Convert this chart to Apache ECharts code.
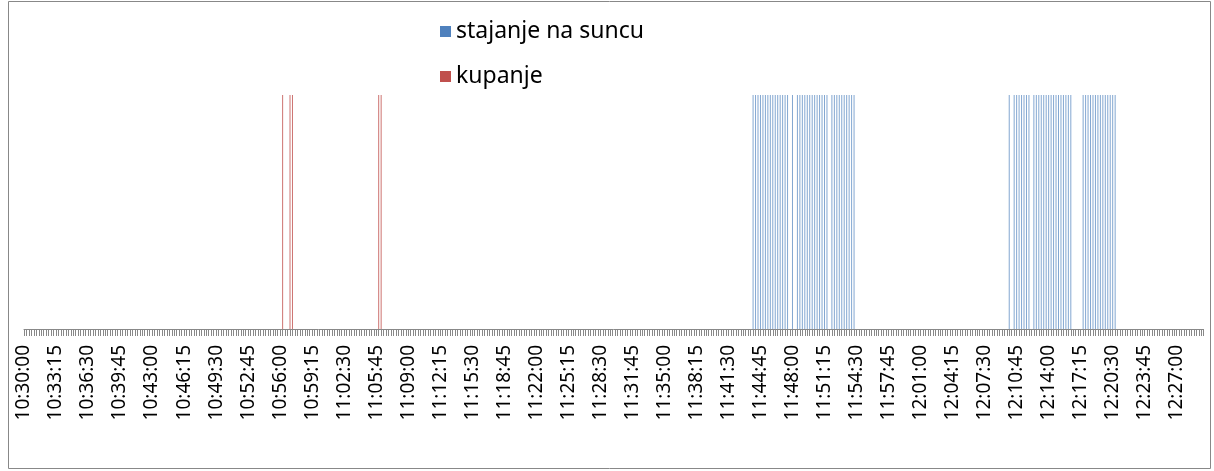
<!DOCTYPE html>
<html>
<head>
<meta charset="utf-8">
<script src="https://cdn.jsdelivr.net/npm/echarts@6/dist/echarts.min.js"></script>
<style>
    html, body { margin: 0; padding: 0; background: #fff; }
    #main { width: 1214px; height: 471px; }
</style>
</head>
<body>
<div id="main"></div>
<script>
// os vremena
var startTime = '10:30:00';
var tickStep = 195; // 3:15 izmedju oznaka
var axisEnd = 7180;

// stajanje na suncu
var sunTimes = [
    '11:44:00', '11:44:15', '11:44:30', '11:44:45', '11:45:00', '11:45:15', '11:45:30', '11:45:45',
    '11:46:00', '11:46:15', '11:46:30', '11:46:45', '11:47:00', '11:47:15', '11:47:30', '11:48:00',
    '11:48:30', '11:48:45', '11:49:00', '11:49:15', '11:49:30', '11:49:45', '11:50:00', '11:50:15',
    '11:50:30', '11:50:45', '11:51:00', '11:51:15', '11:51:30', '11:52:00', '11:52:15', '11:52:30',
    '11:52:45', '11:53:00', '11:53:15', '11:53:30', '11:53:45', '11:54:00', '11:54:15',
    '12:10:00', '12:10:30', '12:10:45', '12:11:00', '12:11:15', '12:11:30', '12:11:45', '12:12:00',
    '12:12:30', '12:12:45', '12:13:00', '12:13:15', '12:13:30', '12:13:45', '12:14:00', '12:14:15',
    '12:14:30', '12:14:45', '12:15:00', '12:15:15', '12:15:30', '12:15:45', '12:16:00', '12:16:15',
    '12:17:30', '12:17:45', '12:18:00', '12:18:15', '12:18:30', '12:18:45', '12:19:00', '12:19:15',
    '12:19:30', '12:19:45', '12:20:00', '12:20:15', '12:20:30', '12:20:45'
];
var sunValues = sunTimes.map(function () { return 1; });

// kupanje
var swimTimes = ['10:56:15', '10:57:00', '10:57:15', '11:06:00', '11:06:15'];
var swimValues = swimTimes.map(function () { return 1; });

function toSec(t) {
    var p = t.split(':');
    return (+p[0]) * 3600 + (+p[1]) * 60 + (+p[2]);
}
var start = toSec(startTime);

function pad(n) { return (n < 10 ? '0' : '') + n; }
function secLabel(v) {
    var s = start + Math.round(v);
    return pad(Math.floor(s / 3600)) + ':' + pad(Math.floor(s % 3600 / 60)) + ':' + pad(s % 60);
}

function pairs(times, values) {
    return times.map(function (t, i) { return [toSec(t) - start, values[i]]; });
}

var myChart = echarts.init(document.getElementById('main'));
var option = {
    animation: false,
    textStyle: { fontFamily: 'Noto Sans' },
    graphic: [{
        type: 'rect',
        shape: { x: 8.5, y: 1.5, width: 1202, height: 467 },
        style: { fill: 'none', stroke: '#888', lineWidth: 1 },
        silent: true
    }],
    legend: {
        orient: 'vertical',
        left: 440,
        top: 20,
        padding: 0,
        icon: 'rect',
        itemWidth: 11,
        itemHeight: 11,
        itemGap: 22,
        textStyle: { fontSize: 23, color: '#000', fontFamily: 'Noto Sans' },
        data: [
            { name: 'stajanje na suncu', itemStyle: { opacity: 1 } },
            { name: 'kupanje', itemStyle: { opacity: 1 } }
        ]
    },
    grid: {
        left: 24,
        right: 11,
        top: 95,
        bottom: 142
    },
    xAxis: {
        type: 'value',
        min: 0,
        max: axisEnd,
        interval: tickStep,
        axisLine: { lineStyle: { color: '#888', width: 1 } },
        axisTick: { show: true, length: 7, lineStyle: { color: '#888' } },
        minorTick: { show: true, splitNumber: 13, length: 7, lineStyle: { color: '#888' } },
        splitLine: { show: false },
        axisLabel: {
            rotate: 90,
            margin: 16,
            fontSize: 19,
            color: '#000',
            fontFamily: 'Noto Sans',
            showMaxLabel: false,
            formatter: secLabel
        }
    },
    yAxis: {
        type: 'value',
        min: 0,
        max: 1,
        show: false
    },
    series: [{
        name: 'stajanje na suncu',
        type: 'bar',
        barWidth: 1,
        barGap: '-100%',
        itemStyle: { color: '#4F81BD', opacity: 0.7 },
        data: pairs(sunTimes, sunValues)
    }, {
        name: 'kupanje',
        type: 'bar',
        barWidth: 1,
        itemStyle: { color: '#C0504D', opacity: 0.8 },
        data: pairs(swimTimes, swimValues)
    }]
};
myChart.setOption(option);
</script>
</body>
</html>
